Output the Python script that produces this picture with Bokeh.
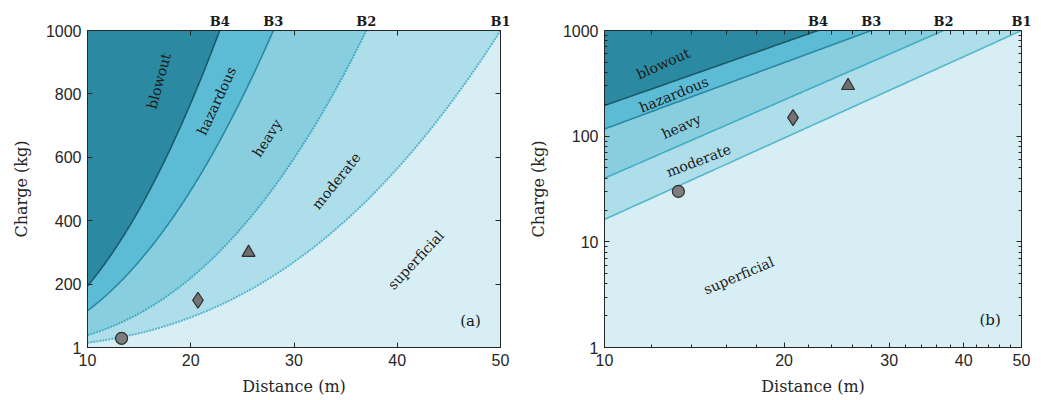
import numpy as np
from bokeh.plotting import figure
from bokeh.layouts import row
from bokeh.models import (Range1d, FixedTicker, LinearAxis, LogAxis, ColumnDataSource,
                          CustomJSTickFormatter, Label)
from bokeh.core.properties import value
from bokeh.embed import file_html
from bokeh.resources import INLINE

# ---------------- data ----------------
b_names = ["B1", "B2", "B3", "B4"]
b_q_at_10m = [16.3, 40.0, 117.0, 195.0]      # charge (kg) on each boundary at 10 m
b_d_at_1000kg = [50.0, 37.0, 28.0, 22.8]     # distance (m) where each boundary reaches 1000 kg

zone_names = ["moderate", "heavy", "hazardous", "blowout"]  # zone above B1, B2, B3, B4
base_zone = "superficial"

pt_d = [13.3, 20.7, 25.6]
pt_q = [30.0, 150.0, 300.0]
pt_marker = ["circle", "diamond", "triangle"]

left_lab_text = ["blowout", "hazardous", "heavy", "moderate", "superficial"]
left_lab_d = [16.9, 22.5, 27.4, 34.1, 41.8]
left_lab_q = [841, 778, 661, 526, 277]
left_lab_ang = [75, 65, 57, 51, 47]

right_lab_text = ["blowout", "hazardous", "heavy", "moderate", "superficial"]
right_lab_d = [12.54, 13.07, 13.45, 14.38, 16.79]
right_lab_q = [486, 248, 124, 58.8, 4.8]
right_lab_ang = [24, 22, 24, 21, 23]

x_ticks = [10, 20, 30, 40, 50]
x_minor_log = [12, 14, 16, 18, 22, 24, 26, 28, 32, 34, 36, 38, 42, 44, 46, 48]
y_ticks_lin = [1, 200, 400, 600, 800, 1000]
y_ticks_log = [1, 10, 100, 1000]
y_minor_log = [2, 3, 4, 5, 6, 7, 8, 9, 20, 30, 40, 50, 60, 70, 80, 90,
               200, 300, 400, 500, 600, 700, 800, 900]

# ---------------- styles ----------------
zone_colors = {"superficial": "#d7eef4", "moderate": "#aedeea", "heavy": "#89cedf",
               "hazardous": "#5dbcd5", "blowout": "#2b8aa1"}
line_colors = ["#56b6cd", "#42acc5", "#2a89a2", "#1b5a6b"]
left_dash = ["2 1", "2 1", "solid", "solid"]
pt_fill = ["#7d7d7d", "#737373", "#6e6e6e"]
pt_size = [12, 16, 13]

SERIF = "DejaVu Serif"
SANS = "Liberation Sans"

D = np.linspace(10, 50, 400)


def boundary(i):
    q10 = b_q_at_10m[i]
    n = np.log(1000.0 / q10) / np.log(b_d_at_1000kg[i] / 10.0)
    return q10 * (D / 10.0) ** n


def style_axis(ax):
    ax.major_tick_in = 5
    ax.major_tick_out = 0
    ax.minor_tick_in = 3
    ax.minor_tick_out = 0
    ax.axis_line_color = "#262626"
    ax.major_tick_line_color = "#262626"
    ax.minor_tick_line_color = "#262626"
    ax.major_label_text_font = SANS
    ax.major_label_text_font_size = "16px"
    ax.major_label_text_color = "#262626"
    ax.major_label_standoff = 6
    ax.axis_label_text_font = SERIF
    ax.axis_label_text_font_size = "16px"
    ax.axis_label_text_font_style = "normal"
    ax.axis_label_text_color = "#262626"


def make_panel(log, width, border_left, border_right, lab_text, lab_d, lab_q, lab_ang,
               letter, letter_pos):
    kw = dict(x_axis_type="log", y_axis_type="log") if log else {}
    p = figure(width=width, height=398, x_range=Range1d(10, 50), y_range=Range1d(1, 1000),
               output_backend="svg", toolbar_location=None,
               min_border_left=border_left, min_border_right=border_right,
               min_border_top=30, min_border_bottom=49, **kw)
    p.background_fill_color = zone_colors[base_zone]
    p.border_fill_color = "white"
    p.grid.visible = False
    p.outline_line_color = "#262626"

    top = 1e6
    for i in range(4):
        q = boundary(i)
        p.varea(x=D, y1=q, y2=np.full_like(D, top), fill_color=zone_colors[zone_names[i]])
    for i in range(4):
        q = boundary(i)
        dash = "solid" if log else left_dash[i]
        width_i = 1.6 if (log or dash == "solid") else 2.0
        p.line(D, q, line_color=line_colors[i], line_width=width_i, line_dash=dash)

    for d, q, m, c, s in zip(pt_d, pt_q, pt_marker, pt_fill, pt_size):
        p.scatter([d], [q], marker=m, size=s, fill_color=c, line_color="#2e2e2e", line_width=1.2)

    src = ColumnDataSource(dict(x=lab_d, y=lab_q, t=lab_text, a=lab_ang))
    p.text(x="x", y="y", text="t", angle="a", angle_units="deg", source=src,
           text_font=value(SERIF), text_font_size="14px", text_color="#1a1a1a",
           text_align="center", text_baseline="middle")

    p.add_layout(Label(x=letter_pos[0], y=letter_pos[1], text=letter, text_font=SERIF,
                       text_font_size="15px", text_color="#1a1a1a",
                       text_align="center", text_baseline="middle"))

    if log:
        xt = FixedTicker(ticks=x_ticks, minor_ticks=x_minor_log)
        yt = FixedTicker(ticks=y_ticks_log, minor_ticks=y_minor_log)
        top_t = FixedTicker(ticks=b_d_at_1000kg, minor_ticks=x_ticks[1:-1] + x_minor_log)
    else:
        xt = FixedTicker(ticks=x_ticks, minor_ticks=[])
        yt = FixedTicker(ticks=y_ticks_lin, minor_ticks=[])
        top_t = FixedTicker(ticks=b_d_at_1000kg, minor_ticks=x_ticks[1:-1])

    p.xaxis.ticker = xt
    p.yaxis.ticker = yt
    p.xaxis.formatter = CustomJSTickFormatter(code="return String(tick)")
    p.yaxis.formatter = CustomJSTickFormatter(code="return String(tick)")
    p.xaxis.axis_label = "Distance (m)"
    p.yaxis.axis_label = "Charge (kg)"
    for ax in p.xaxis + p.yaxis:
        style_axis(ax)
    p.xaxis.axis_label_standoff = 8
    p.yaxis.axis_label_standoff = 12

    AxX = LogAxis if log else LinearAxis
    # top axis: boundary names as labels, mirrored x ticks as (inward) minor ticks
    top_ax = AxX(ticker=top_t)
    style_axis(top_ax)
    top_ax.major_tick_in = 0
    top_ax.minor_tick_in = 5 if not log else 4
    top_ax.major_label_standoff = 2
    top_ax.major_label_text_font = SERIF
    top_ax.major_label_text_font_size = "13px"
    top_ax.major_label_text_font_style = "bold"
    top_ax.major_label_text_color = "#1a1a1a"
    top_ax.formatter = CustomJSTickFormatter(
        args=dict(pos=b_d_at_1000kg, names=b_names),
        code="for (let i = 0; i < pos.length; i++) { if (Math.abs(tick - pos[i]) < 1e-6) return names[i]; } return '';")
    p.add_layout(top_ax, "above")

    right_ax = AxX(ticker=yt)
    style_axis(right_ax)
    right_ax.major_label_standoff = 0
    right_ax.formatter = CustomJSTickFormatter(code="return ''")
    p.add_layout(right_ax, "right")
    return p


p1 = make_panel(False, 525, 87, 25, left_lab_text, left_lab_d, left_lab_q, left_lab_ang,
                "(a)", (47.1, 85))
p2 = make_panel(True, 514, 79, 18, right_lab_text, right_lab_d, right_lab_q, right_lab_ang,
                "(b)", (44.3, 1.84))

layout = row(p1, p2)
open("out.html", "w").write(file_html(layout, INLINE))
